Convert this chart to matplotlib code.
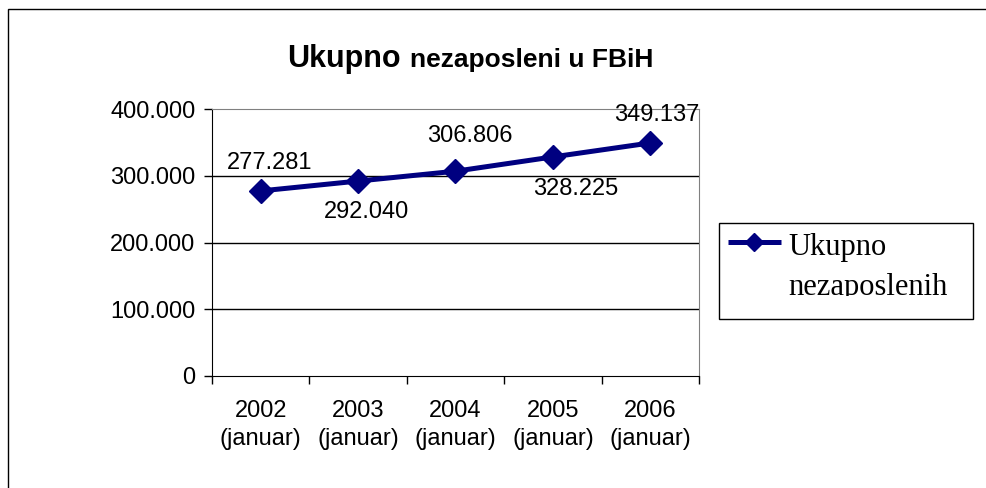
import matplotlib
matplotlib.use("Agg")
import matplotlib.pyplot as plt
from matplotlib.patches import Rectangle
from matplotlib.lines import Line2D
from matplotlib.transforms import Bbox, TransformedBbox
from matplotlib.ticker import FuncFormatter

godine = ["2002\n(januar)", "2003\n(januar)", "2004\n(januar)", "2005\n(januar)", "2006\n(januar)"]
nezaposleni = [277281, 292040, 306806, 328225, 349137]
oznake = ["277.281", "292.040", "306.806", "328.225", "349.137"]
y_ticks = [0, 100000, 200000, 300000, 400000]
serija = "Ukupno nezaposlenih"

# label offsets in pixels (dx, dy) relative to the point
label_off = [(9, 28), (8, -31), (14, 35), (23, -32), (6, 28)]

W, H = 987, 488
plava = "#000080"


def fx(px):
    return px / W


def fy(py):
    return (H - py) / H


def dots(v):
    return f"{int(v):,}".replace(",", ".")


def main():
    fig = plt.figure(figsize=(W / 100, H / 100), dpi=100)
    plt.rcParams["font.family"] = ["Liberation Sans", "DejaVu Sans"]

    # outer chart frame
    fig.patches.append(Rectangle((fx(8), -0.1), 1.2, fy(9) + 0.1, transform=fig.transFigure,
                                 fill=False, edgecolor="black", lw=1))

    ax = fig.add_axes([fx(212), fy(376), fx(699) - fx(212), fy(109) - fy(376)])
    x = list(range(len(nezaposleni)))
    ax.plot(x, nezaposleni, color=plava, lw=3.6, marker="D", markersize=12,
            markerfacecolor=plava, markeredgecolor=plava, zorder=3)

    for xi, yi, txt, (dx, dy) in zip(x, nezaposleni, oznake, label_off):
        ax.annotate(txt, (xi, yi), xytext=(dx * 0.72, dy * 0.72), textcoords="offset points",
                    ha="center", va="center", fontsize=17, color="black", zorder=4)

    ax.set_xlim(-0.5, len(x) - 0.5)
    ax.set_ylim(0, 400000)
    ax.set_yticks(y_ticks)
    ax.yaxis.set_major_formatter(FuncFormatter(lambda v, p: dots(v)))
    ax.tick_params(axis="y", labelsize=17, length=6, width=1, pad=6, direction="out")
    for yv in y_ticks[1:-1]:
        ax.axhline(yv, color="black", lw=1, zorder=1)

    ax.set_xticks(x)
    ax.set_xticklabels(godine, fontsize=17, linespacing=1.32)
    ax.set_xticks([i - 0.5 for i in range(len(x) + 1)], minor=True)
    ax.tick_params(axis="x", which="major", length=0, pad=17.5)
    ax.tick_params(axis="x", which="minor", length=6, width=1, direction="out")

    ax.spines["left"].set_color("black")
    ax.spines["bottom"].set_color("black")
    ax.spines["top"].set_color("#808080")
    ax.spines["right"].set_color("#808080")

    # title, first word larger
    fig.text(fx(287), fy(67), "Ukupno", fontsize=22, fontweight="bold", ha="left", va="baseline")
    fig.text(fx(410), fy(67), "nezaposleni u FBiH", fontsize=19, fontweight="bold",
             ha="left", va="baseline")

    # legend box
    fig.patches.append(Rectangle((fx(719), fy(319)), fx(973) - fx(719), fy(223) - fy(319),
                                 transform=fig.transFigure, fill=False, edgecolor="black", lw=1))
    fig.lines.append(Line2D([fx(728), fx(781)], [fy(242), fy(242)], transform=fig.transFigure,
                            color=plava, lw=3.6, solid_capstyle="butt"))
    fig.lines.append(Line2D([fx(754)], [fy(242)], transform=fig.transFigure, color=plava,
                            marker="D", markersize=9.5, lw=0))
    clip = TransformedBbox(Bbox.from_extents(fx(719), fy(296), fx(973), fy(223)), fig.transFigure)
    rijeci = serija.split(" ", 1)
    for i, r in enumerate(rijeci):
        t = fig.text(fx(788), fy(255 + 40 * i), r, fontsize=22, family=["Liberation Serif"],
                     ha="left", va="baseline")
        t.set_clip_box(clip)
        t.set_clip_on(True)

    fig.savefig("out.png", dpi=100)


if __name__ == "__main__":
    main()
